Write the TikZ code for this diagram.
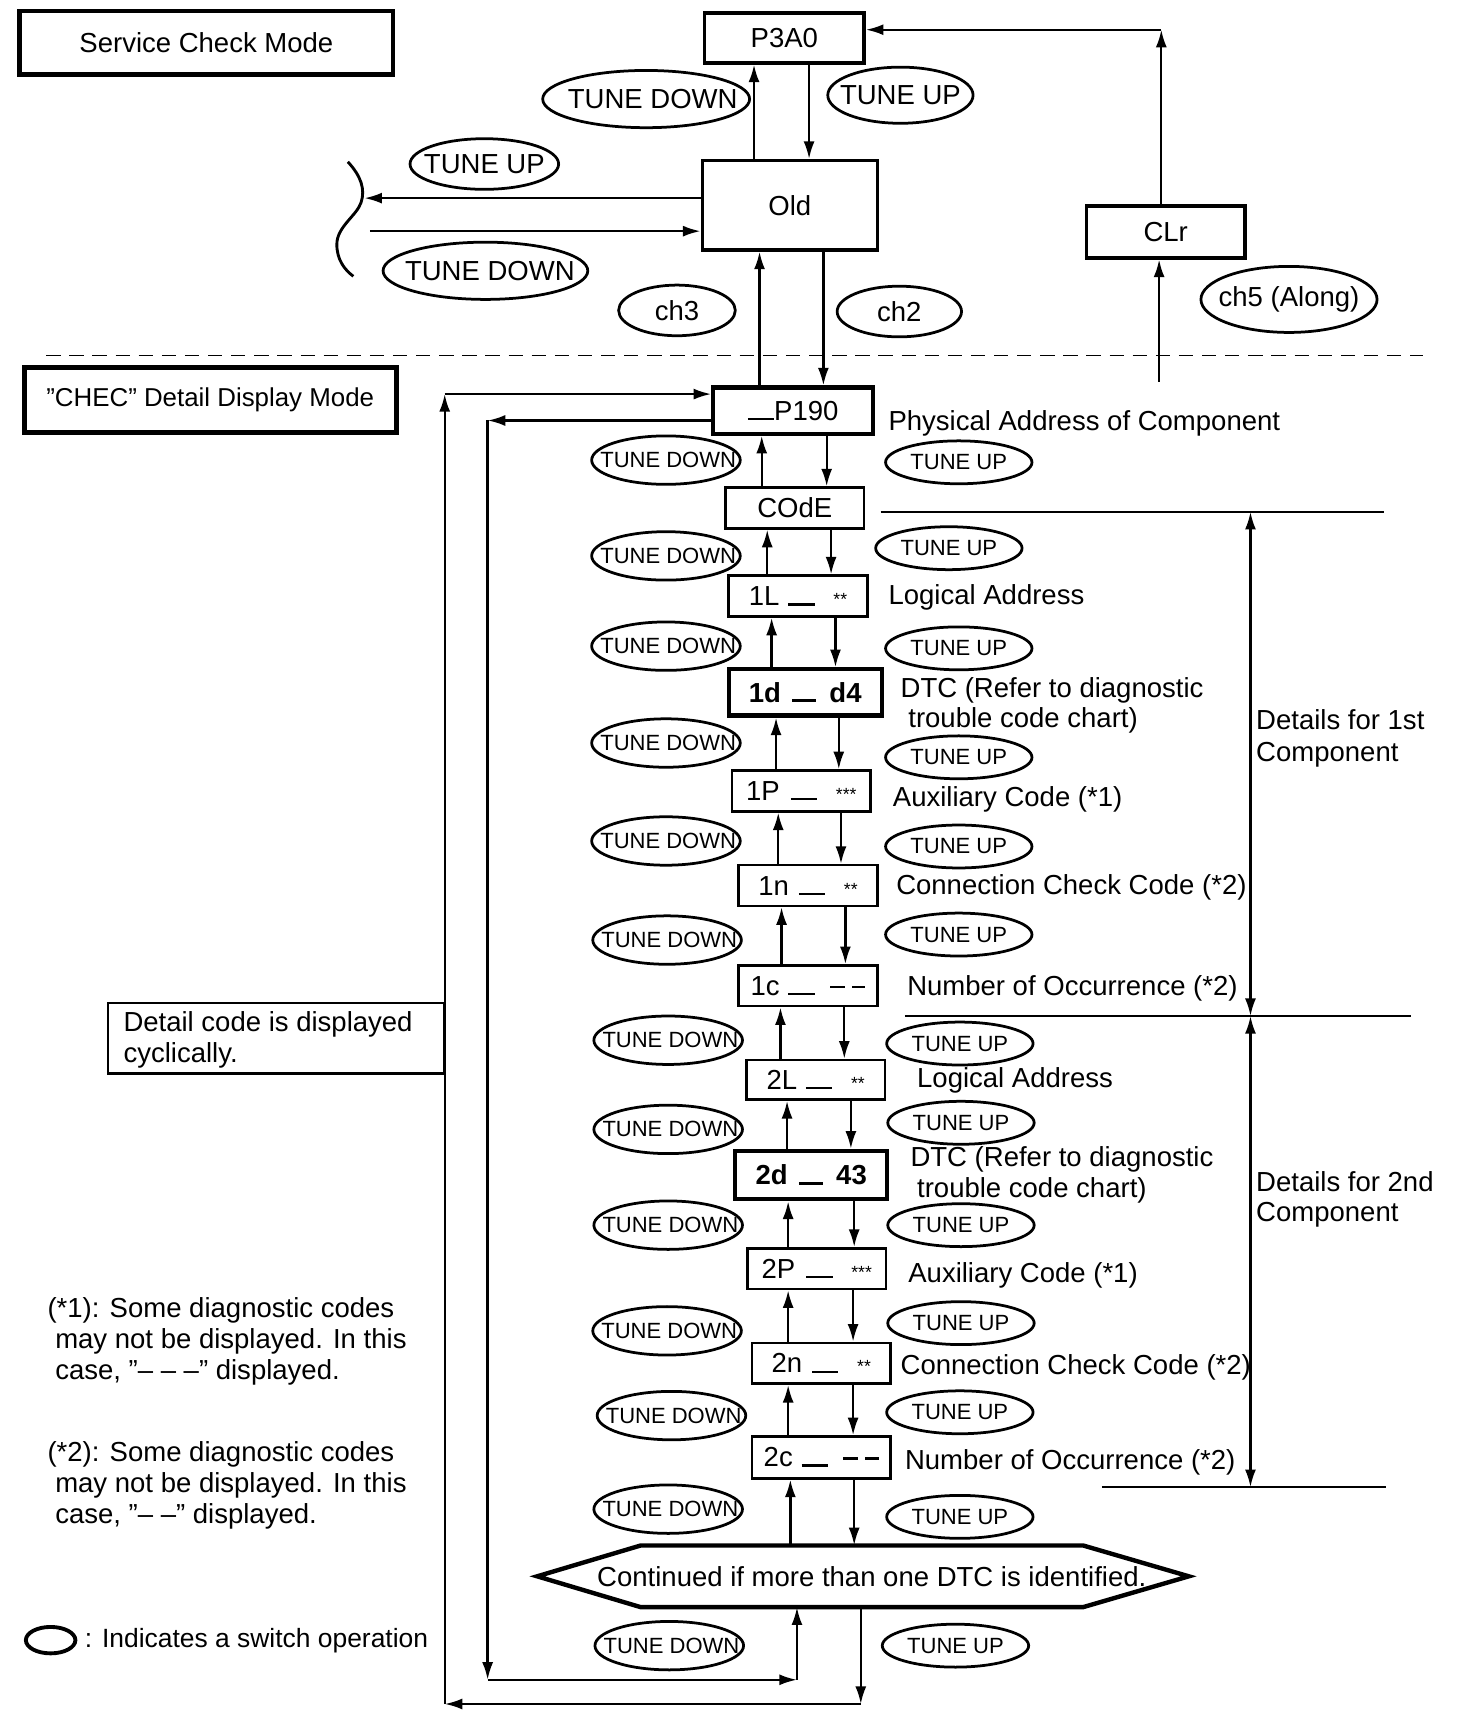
\documentclass[tikz,border=0pt]{standalone}
\usepackage{fontspec}
\setmainfont{Liberation Sans}
\usetikzlibrary{arrows.meta,shapes.geometric}
\newcommand\fbig{\fontsize{25}{30}\selectfont}
\newcommand\fsml{\fontsize{20}{24}\selectfont}
\newcommand\astr[1]{{\fontsize{16}{16}\selectfont #1}}
\newcommand\ulbar{\rule{24pt}{2.2pt}}
\newcommand\ez[1]{\makebox[0pt][c]{#1}}
\newcommand\dsh{\rule[6pt]{13pt}{2.6pt}\hspace{7pt}\rule[6pt]{12pt}{2.6pt}}
\newcommand\pairarr[4]{%
  \draw[arr] (#3,0 |- #2.north) -- (#3,0 |- #1.south);
  \draw[arr] (#4,0 |- #1.south) -- (#4,0 |- #2.north);}
\begin{document}
\begin{tikzpicture}[x=1pt,y=-1pt,
  every node/.style={font=\fbig},
  arr/.style={line width=2.1pt,-{Latex[length=16pt,width=10pt]}},
  dbl/.style={line width=2.1pt,{Latex[length=16pt,width=10pt]}-{Latex[length=16pt,width=10pt]}},
  ln/.style={line width=2.1pt},
  boxa/.style={draw,rectangle,line width=2.3pt,inner sep=0pt},
  boxb/.style={draw,rectangle,line width=3.2pt,inner sep=0pt},
  boxc/.style={draw,rectangle,line width=4pt,inner sep=0pt},
  bell/.style={draw,ellipse,line width=2.5pt,inner sep=0pt},
  sdown/.style={draw,ellipse,line width=2.5pt,inner sep=0pt,font=\fsml,minimum width=135pt,minimum height=44pt},
  sup/.style={draw,ellipse,line width=2.5pt,inner sep=0pt,font=\fsml,minimum width=133pt,minimum height=39pt},
  lbl/.style={anchor=base west,inner sep=0pt},
]
\useasboundingbox (0,0) rectangle (1337,1568);

% ---------- upper section ----------
\node[boxc, line width=4.5pt, minimum width=339pt, minimum height=58pt] (scm) at (187.5,39) {Service Check Mode};
\node[boxb, minimum width=145pt, minimum height=45pt] (p3a0) at (712.5,34.5) {P3A0};
\node[boxb, minimum width=159pt, minimum height=81pt] (old) at (717.5,186.5) {Old};
\node[boxb, line width=3.5pt, minimum width=144pt, minimum height=47pt] (clr) at (1059,210.5) {CLr};

\node[bell, minimum width=188pt, minimum height=52pt] (e1) at (587,90) {\ez{\hspace{12pt}TUNE DOWN}};
\node[bell, minimum width=132pt, minimum height=51pt] (e2) at (818,86.5) {\ez{TUNE UP}};
\node[bell, minimum width=135pt, minimum height=46pt] (e3) at (440,149) {\ez{TUNE UP}};
\node[bell, minimum width=186pt, minimum height=52pt] (e4) at (441,246) {\ez{\hspace{8pt}TUNE DOWN}};
\node[bell, minimum width=106pt, minimum height=46pt] (e5) at (615,282) {\ez{ch3}};
\node[bell, minimum width=113pt, minimum height=46pt] (e6) at (817,283) {\ez{ch2}};
\node[bell, minimum width=160pt, minimum height=60pt] (e7) at (1171,272) {\ez{ch5 (Along)}};

\pairarr{p3a0}{old}{685}{735}
\coordinate (bl) at (331,180);
\coordinate (br) at (336,210);
\draw[arr] (old.west |- 0,180) -- (bl);
\draw[arr] (br) -- (old.west |- 0,210);
\draw[line width=2.6pt] (316,147) .. controls (328,160) and (332,172) .. (328,184)
  .. controls (324,196) and (306,206) .. (306,222)
  .. controls (306,236) and (313,245) .. (321,251);

\coordinate (clrin) at (1053,347);
\coordinate (clrtop) at (1055,27);
\draw[arr] (clrin) -- (clrin |- clr.south);
\draw[arr] (1055,0 |- clr.north) -- (clrtop);
\draw[arr] (clrtop) -- (p3a0.east |- clrtop);

\draw[line width=1.6pt, dash pattern=on 13pt off 8pt] (42,323) -- (1293,323);

% ---------- lower section ----------
\node[boxc, line width=4.5pt, minimum width=338pt, minimum height=59pt, font=\fontsize{23.5}{28}\selectfont] (chec) at (191,363.5) {”CHEC” Detail Display Mode};

\node[boxc, line width=3.8pt, minimum width=145pt, minimum height=42pt] (p190) at (720.5,373) {\ulbar P190\hspace{16pt}};
\node[boxa, minimum width=126pt, minimum height=37pt] (code) at (722,461.5) {COdE};
\node[boxa, minimum width=126pt, minimum height=37pt] (b1L) at (725,541.5) {1L\hspace{8pt}\ulbar\hspace{17pt}\astr{**}};
\node[boxc, line width=3.8pt, minimum width=139pt, minimum height=42pt] (b1d) at (731.5,629) {\bfseries 1d\hspace{10pt}\rule{22pt}{3pt}\hspace{12pt}d4};
\node[boxa, minimum width=126pt, minimum height=37pt] (b1P) at (728,718.5) {1P\hspace{10pt}\ulbar\hspace{17pt}\astr{***}};
\node[boxa, minimum width=126pt, minimum height=37pt] (b1n) at (734,804.5) {1n\hspace{9pt}\ulbar\hspace{17pt}\astr{**}};
\node[boxa, minimum width=126pt, minimum height=37pt] (b1c) at (734,895.5) {1c\hspace{8pt}\ulbar\hspace{14pt}\dsh};
\node[boxa, minimum width=126pt, minimum height=36pt] (b2L) at (741,981) {2L\hspace{8pt}\ulbar\hspace{17pt}\astr{**}};
\node[boxc, line width=3.8pt, minimum width=138pt, minimum height=44pt] (b2d) at (737,1067.5) {\bfseries 2d\hspace{10pt}\rule{22pt}{3pt}\hspace{12pt}43};
\node[boxa, minimum width=126pt, minimum height=37pt] (b2P) at (742,1152.5) {2P\hspace{10pt}\ulbar\hspace{17pt}\astr{***}};
\node[boxa, minimum width=126pt, minimum height=37pt] (b2n) at (746,1238.5) {2n\hspace{9pt}\ulbar\hspace{17pt}\astr{**}};
\node[boxa, minimum width=126pt, minimum height=38pt] (b2c) at (746,1324) {2c\hspace{8pt}\ulbar\hspace{14pt}\dsh};

\draw[line width=4pt, line join=miter] (488,1432) -- (582,1404) -- (984,1404) -- (1080,1432) -- (984,1460) -- (582,1460) -- cycle;
\node[inner sep=0pt, minimum width=402pt, minimum height=56pt] (hex) at (792,1432) {Continued if more than one DTC is identified.};

\pairarr{old}{p190}{690}{748}
\pairarr{p190}{code}{692}{751}
\pairarr{code}{b1L}{697}{755}
\pairarr{b1L}{b1d}{701}{759}
\pairarr{b1d}{b1P}{705}{762}
\pairarr{b1P}{b1n}{707}{764}
\pairarr{b1n}{b1c}{710}{768}
\pairarr{b1c}{b2L}{709}{767}
\pairarr{b2L}{b2d}{715}{773}
\pairarr{b2d}{b2P}{716}{776}
\pairarr{b2P}{b2n}{716}{775}
\pairarr{b2n}{b2c}{716}{775}
\pairarr{b2c}{hex}{718}{776}

% loops
\coordinate (ia) at (443,382);
\coordinate (ib) at (443,1526);
\coordinate (ic) at (724,1526);
\draw[arr] (p190.west |- ia) -- (ia);
\draw[arr] (ia) -- (ib);
\draw[arr] (ib) -- (ic);
\draw[arr] (ic) -- (ic |- hex.south);
\coordinate (oa) at (782,1548);
\coordinate (ob) at (404,1548);
\coordinate (oc) at (404,358);
\draw[arr] (782,0 |- hex.south) -- (oa);
\draw[arr] (oa) -- (ob);
\draw[arr] (ob) -- (oc);
\draw[arr] (oc) -- (p190.west |- oc);

% small switch ellipses
\foreach \n/\xx/\yy in {1/605/418,2/605/505,3/605/587,4/605/675,5/605/764,6/606/854,7/607/945,8/607/1026,9/607/1113,10/606/1209,11/610/1286,12/607/1371,13/608/1495}
  \node[sdown] (dn\n) at (\xx,\yy) {\ez{\hspace{4pt}TUNE DOWN}};
\foreach \n/\xx/\yy in {1/871/420,2/862/498,3/871/589,4/871/688,5/871/769,6/871/849,7/872/948,8/873/1020,9/873/1113,10/873/1202,11/872/1283,12/872/1378,13/868/1495}
  \node[sup] (up\n) at (\xx,\yy) {\ez{TUNE UP}};

% labels
\node[lbl] (t1) at (807,391) {Physical Address of Component};
\node[lbl] (t2) at (807,549.5) {Logical Address};
\node[lbl] (t3) at (818,634) {DTC (Refer to diagnostic};
\node[lbl] (t3b) at (825,661) {trouble code chart)};
\node[lbl] (t4) at (811,733) {Auxiliary Code (*1)};
\node[lbl] (t5) at (814,813) {Connection Check Code (*2)};
\node[lbl] (t6) at (824,904.5) {Number of Occurrence (*2)};
\node[lbl] (t7) at (833,988) {Logical Address};
\node[lbl] (t8) at (827,1060) {DTC (Refer to diagnostic};
\node[lbl] (t8b) at (833,1088) {trouble code chart)};
\node[lbl] (t9) at (825,1165) {Auxiliary Code (*1)};
\node[lbl] (t10) at (818,1249) {Connection Check Code (*2)};
\node[lbl] (t11) at (822,1335) {Number of Occurrence (*2)};

% component brackets
\draw[ln] (800,465) -- (1257,465);
\draw[ln] (822,923) -- (1282,923);
\draw[ln] (1001,1351) -- (1259,1351);
\coordinate (d1a) at (1136,465);
\coordinate (d1b) at (1136,923);
\coordinate (d2b) at (1136,1351);
\draw[dbl] (d1a) -- (d1b);
\draw[dbl] (d1b) -- (d2b);
\node[lbl] (c1a) at (1141,663) {Details for 1st};
\node[lbl] (c1b) at (1141,692) {Component};
\node[lbl] (c2a) at (1141,1082.5) {Details for 2nd};
\node[lbl] (c2b) at (1141,1110) {Component};

% left notes
\node[boxa, minimum width=306pt, minimum height=64pt] (cyc) at (251,943) {};
\node[lbl] (cyc1) at (112,937) {Detail code is displayed};
\node[lbl] (cyc2) at (112,965) {cyclically.};

\node[lbl] (n1a) at (43,1197) {(*1): Some diagnostic codes};
\node[lbl] (n1b) at (50,1225) {may not be displayed. In this};
\node[lbl] (n1c) at (50,1253) {case, ”– – –” displayed.};
\node[lbl] (n2a) at (43,1328) {(*2): Some diagnostic codes};
\node[lbl] (n2b) at (50,1356) {may not be displayed. In this};
\node[lbl] (n2c) at (50,1384) {case, ”– –” displayed.};

\node[draw, ellipse, line width=3.5pt, minimum width=45pt, minimum height=24pt, inner sep=0pt] (leg) at (46,1490) {};
\node[lbl, font=\fontsize{24}{28}\selectfont] (legt) at (77,1497) {: Indicates a switch operation};
\end{tikzpicture}
\end{document}
